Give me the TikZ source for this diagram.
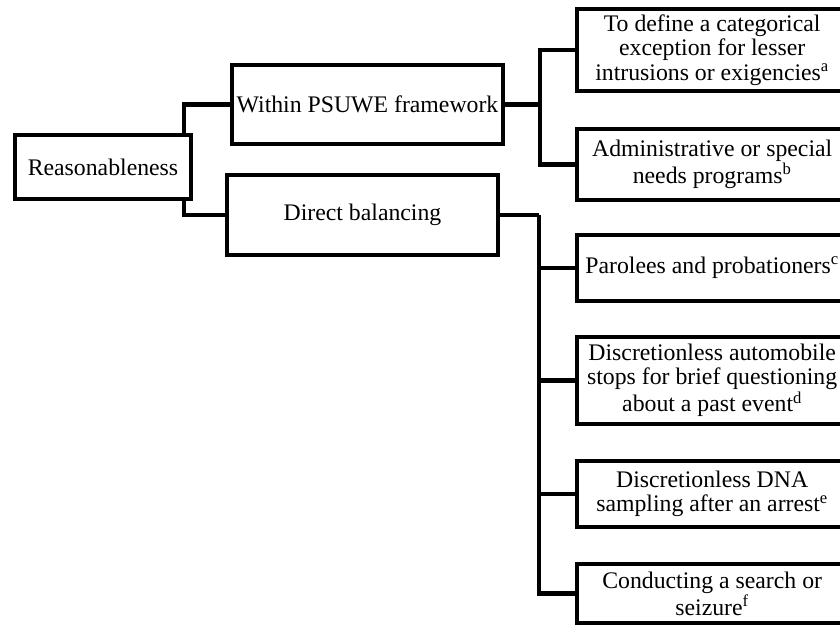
\documentclass[tikz,border=0pt]{standalone}
\usepackage{fontspec}
\setmainfont{Liberation Serif}
\usepackage{xcolor}
\usepackage{tikz}
\usetikzlibrary{positioning,calc}
\definecolor{rsInk}{RGB}{0,0,0}
\tikzset{
  rsbox/.style={draw=rsInk,fill=white,line width=3.1pt,text=black,
                align=center,inner sep=1pt,minimum width=#1},
  rsbox/.default=6.75cm,
  rslink/.style={draw=rsInk,line width=3.1pt,line join=miter},
}

\begin{document}
\begin{tikzpicture}[
  font=\fontsize{16.9}{17.4}\selectfont,
]
\useasboundingbox (0,0) rectangle (21,-15.65);

% =================================================================
% LEFT -- root and the two routes
% =================================================================
\node[rsbox=4.4cm,  minimum height=1.6cm]   (reas)   at (2.575,-4.175)  {Reasonableness};
\node[rsbox=6.775cm, minimum height=1.975cm] (within) at (9.1875,-2.6125) {Within PSUWE framework};
\node[rsbox=6.775cm, minimum height=2.0cm]   (direct) at (9.0625,-5.375)  {Direct balancing};

\draw[rslink] ([xshift=-0.225cm]reas.north east) |- (within.west);
\draw[rslink] ([xshift=-0.225cm]reas.south east) |- (direct.west);

% =================================================================
% RIGHT -- leaves of the PSUWE framework
% =================================================================
\node[rsbox, minimum height=2.05cm, anchor=west]  (cat)  at (14.375,-1.25)
      {To define a categorical\\exception for lesser\\intrusions or exigencies\textsuperscript{a}};
\node[rsbox, minimum height=1.775cm, anchor=west] (adm)  at (14.375,-4.1125)
      {Administrative or special\\needs programs\textsuperscript{b}};

\coordinate[right=0.875cm of within.east] (jw);
\draw[rslink] (within.east) -- (jw);
\foreach \b in {cat, adm}
  \draw[rslink] (jw) |- (\b.west);

% =================================================================
% RIGHT -- leaves of direct balancing
% =================================================================
\node[rsbox, minimum height=1.65cm, anchor=west]  (parole) at (14.375,-6.7)
      {Parolees and probationers\textsuperscript{c}};
\node[rsbox, minimum height=2.175cm, anchor=west] (auto)   at (14.375,-9.5125)
      {Discretionless automobile\\stops for brief questioning\\about a past event\textsuperscript{d}};
\node[rsbox, minimum height=1.65cm, anchor=west]  (dna)    at (14.375,-12.35)
      {Discretionless DNA\\sampling after an arrest\textsuperscript{e}};
\node[rsbox, minimum height=1.475cm, anchor=west] (search) at (14.375,-14.8375)
      {Conducting a search or\\seizure\textsuperscript{f}};

\coordinate[right=0.975cm of direct.east] (jd);
\draw[rslink] (direct.east) -- (jd);
\foreach \b in {parole, auto, dna, search}
  \draw[rslink] (jd) |- (\b.west);

\end{tikzpicture}
\end{document}
